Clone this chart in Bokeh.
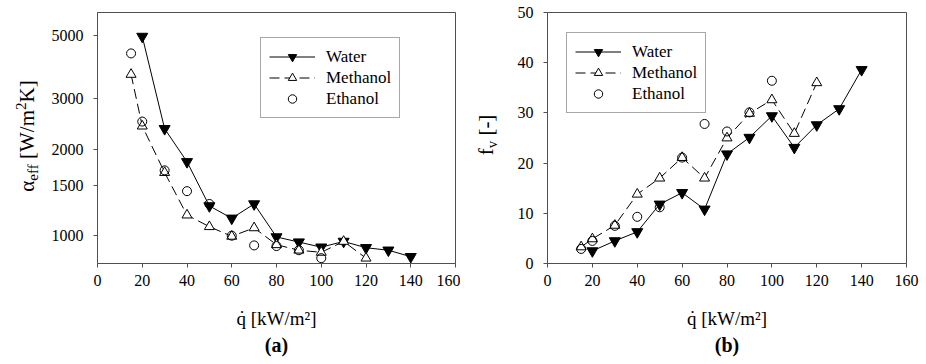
from bokeh.plotting import figure
from bokeh.models import Range1d, FixedTicker, Legend, LegendItem, Title, Div
from bokeh.layouts import row
from bokeh.embed import file_html
from bokeh.resources import INLINE

# ---------------- data ----------------
q_water = [20, 30, 40, 50, 60, 70, 80, 90, 100, 110, 120, 130, 140]
q_meth = [15, 20, 30, 40, 50, 60, 70, 80, 90, 100, 110, 120]
q_eth = [15, 20, 30, 40, 50, 60, 70, 80, 90, 100]

alpha_water = [4950, 2360, 1810, 1270, 1150, 1290, 990, 950, 912, 955, 908, 890, 845]
alpha_meth = [3650, 2410, 1660, 1180, 1075, 995, 1065, 930, 890, 875, 955, 835]
alpha_eth = [4320, 2500, 1690, 1430, 1290, 1000, 925, 920, 890, 835]

fv_water = [2.5, 4.5, 6.3, 11.8, 14.1, 10.8, 21.8, 25.1, 29.4, 23.1, 27.6, 30.8, 38.6]
fv_meth = [3.3, 4.9, 7.6, 13.8, 17.0, 21.1, 17.0, 25.0, 29.9, 32.6, 25.9, 36.0]
fv_eth = [2.9, 4.5, 7.5, 9.3, 11.2, 21.1, 27.8, 26.3, 30.1, 36.4]

x_ticks = [0, 20, 40, 60, 80, 100, 120, 140, 160]
alpha_ticks = [1000, 1500, 2000, 3000, 5000]
fv_ticks = [0, 10, 20, 30, 40, 50]
series_names = ["Water", "Methanol", "Ethanol"]

FONT = "Liberation Serif"
AX = "#505050"
H = 362
TOP = 12
BOTTOM = 99


def make_fig(width, left, right, y_range, y_type):
    p = figure(width=width, height=H, x_range=Range1d(0, 160), y_range=y_range,
               y_axis_type=y_type, output_backend="svg", toolbar_location=None,
               min_border_left=left, min_border_right=right, min_border_top=TOP,
               min_border_bottom=BOTTOM)
    p.grid.visible = False
    p.outline_line_color = AX
    p.outline_line_width = 1
    for ax in (p.xaxis[0], p.yaxis[0]):
        ax.axis_line_color = AX
        ax.major_tick_line_color = AX
        ax.minor_tick_line_color = None
        ax.major_tick_in = 0
        ax.major_tick_out = 4
        ax.major_label_text_font = FONT
        ax.major_label_text_font_size = "16px"
        ax.major_label_text_color = "black"
    p.xaxis.ticker = FixedTicker(ticks=x_ticks)
    p.xaxis.major_label_standoff = 7
    p.yaxis.major_label_standoff = 10
    p.xaxis.axis_label = "q\u0307 [kW/m\u00b2]"
    p.xaxis.axis_label_text_font = FONT
    p.xaxis.axis_label_text_font_size = "19px"
    p.xaxis.axis_label_text_font_style = "normal"
    p.xaxis.axis_label_text_color = "black"
    p.xaxis.axis_label_standoff = 19
    return p


def add_series(p, yw, ym, ye):
    lw = p.line(q_water, yw, line_color="black", line_width=1)
    sw = p.scatter(q_water, yw, marker="inverted_triangle", size=11,
                   fill_color="black", line_color="black")
    lm = p.line(q_meth, ym, line_color="black", line_width=1, line_dash="10 5")
    sm = p.scatter(q_meth, ym, marker="triangle", size=10,
                   fill_color="white", line_color="black", line_width=1)
    se = p.scatter(q_eth, ye, marker="circle", size=9,
                   fill_color=None, line_color="black", line_width=1)
    return [[lw, sw], [lm, sm], [se]]


def add_legend(p, rends, loc):
    items = [LegendItem(label=n, renderers=r) for n, r in zip(series_names, rends)]
    lg = Legend(items=items, location=loc, orientation="vertical",
                border_line_color=AX, border_line_width=1,
                background_fill_color="white", background_fill_alpha=1,
                label_text_font=FONT, label_text_font_size="17px",
                label_text_color="black", glyph_width=46, glyph_height=21,
                label_height=21, spacing=0, padding=8, margin=0,
                label_standoff=11)
    p.add_layout(lg)


def add_panel_title(p, text):
    p.add_layout(Title(text=text, align="center", text_font=FONT,
                       text_font_size="20px", text_font_style="bold",
                       text_color="black", standoff=0), "below")


def ylabel_div(width, cx, cy, html):
    inner = (
        f'<div style="position:relative;width:{width}px;height:{H}px;overflow:visible;">'
        f'<div style="position:absolute;left:{cx}px;top:{cy}px;'
        f'transform:translate(-50%,-50%) rotate(-90deg);white-space:nowrap;'
        f"font-family:'{FONT}',serif;font-size:21px;line-height:21px;color:black;\">"
        f'{html}</div></div>'
    )
    return Div(text=inner, width=width, height=H, margin=0)


SUB = '<span style="font-size:15px;vertical-align:-4px;">{}</span>'
SUP = '<span style="font-size:15px;vertical-align:8px;">{}</span>'

# ---------------- panel (a) ----------------
la = ylabel_div(45, 27, 136, "\u03b1" + SUB.format("eff") + " [W/m" + SUP.format("2") + "K]")

pa = make_fig(415, 52, 5, Range1d(800, 6000), "log")
pa.yaxis.ticker = FixedTicker(ticks=alpha_ticks)
pa.yaxis.major_label_overrides = {t: str(t) for t in alpha_ticks}
ra = add_series(pa, alpha_water, alpha_meth, alpha_eth)
add_legend(pa, ra, (163, 145))
add_panel_title(pa, "(a)")

# ---------------- panel (b) ----------------
lb = ylabel_div(42, 29, 135, "f" + SUB.format("v") + " [-]")

pb = make_fig(422, 45, 18, Range1d(0, 50), "linear")
pb.yaxis.ticker = FixedTicker(ticks=fv_ticks)
rb = add_series(pb, fv_water, fv_meth, fv_eth)
add_legend(pb, rb, (19, 150))
add_panel_title(pb, "(b)")

layout = row(la, pa, lb, pb)
open("out.html", "w").write(file_html(layout, INLINE))
